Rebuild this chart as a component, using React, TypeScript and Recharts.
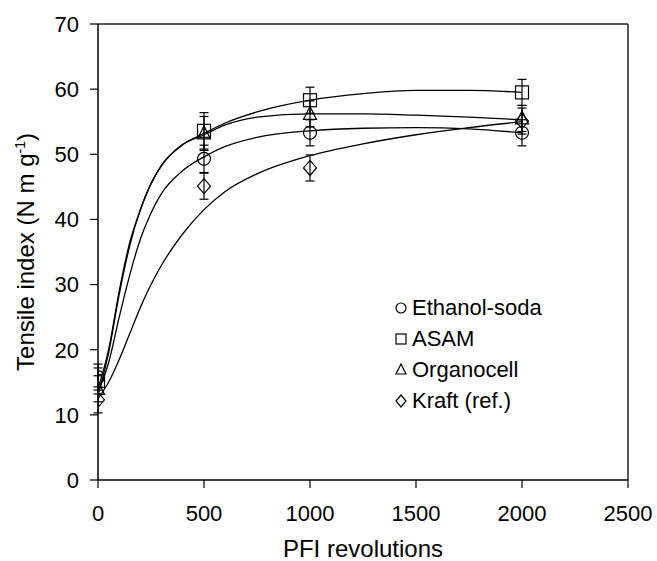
import React from "react";
import {
  ComposedChart,
  Line,
  Scatter,
  ErrorBar,
  XAxis,
  YAxis,
  ReferenceLine,
  Label,
} from "recharts";

// measured points
const revolutions = [0, 500, 1000, 2000];
const ethanolSoda = [15.8, 49.3, 53.3, 53.3];
const ethanolSodaErr = [2, 2.1, 2, 2];
const asam = [15.2, 53.6, 58.3, 59.5];
const asamErr = [2, 2.8, 2, 2];
const organocell = [14, 53.2, 56.2, 55.5];
const organocellErr = [2, 2.6, 2, 2];
const kraft = [12.3, 45.1, 47.9, 55.1];
const kraftErr = [2, 2, 2, 2];

// fitted curves
const fitX = [0, 50, 100, 150, 200, 250, 300, 400, 500, 600, 750, 1000, 1250, 1500, 1750, 2000];
const ethanolSodaFit = [13.5, 18, 25, 31.5, 37, 41, 44, 47.5, 49.6, 51.2, 52.6, 53.6, 54, 54.1, 53.9, 53.3];
const asamFit = [14, 20, 29, 36.5, 41.5, 45.5, 48.3, 51.5, 53.2, 54.8, 56.5, 58.3, 59.3, 59.8, 59.8, 59.5];
const organocellFit = [13, 19.5, 28.5, 36, 41.5, 45.5, 48.3, 51.5, 53, 54.5, 55.7, 56.2, 56.2, 56, 55.7, 55.3];
const kraftFit = [12.5, 15, 18.5, 22.5, 26.5, 30, 33, 37.8, 41.5, 44.3, 47, 49.8, 51.6, 53, 54.1, 55];

const xTicks = [0, 500, 1000, 1500, 2000, 2500];
const yTicks = [0, 10, 20, 30, 40, 50, 60, 70];

const FONT = "'Liberation Sans', Arial, sans-serif";

const points = (ys: number[], errs: number[]) =>
  revolutions.map((x, i) => ({ x, y: ys[i], err: errs[i] }));
const curve = (ys: number[]) => fitX.map((x, i) => ({ x, y: ys[i] }));

type Kind = "circle" | "square" | "triangle" | "diamond";

function Marker({ kind, cx, cy, s }: { kind: Kind; cx: number; cy: number; s: number }) {
  const h = s / 2;
  const common = { fill: "none", stroke: "#000", strokeWidth: 1.2 };
  if (kind === "circle") return <circle cx={cx} cy={cy} r={h} {...common} />;
  if (kind === "square") return <rect x={cx - h} y={cy - h} width={s} height={s} {...common} />;
  if (kind === "triangle")
    return <polygon points={`${cx},${cy - h - 1} ${cx - h},${cy + h - 1} ${cx + h},${cy + h - 1}`} {...common} />;
  return <polygon points={`${cx},${cy - h - 1} ${cx + h},${cy} ${cx},${cy + h + 1} ${cx - h},${cy}`} {...common} />;
}

const series: { name: string; kind: Kind; pts: number[]; err: number[]; fit: number[] }[] = [
  { name: "Ethanol-soda", kind: "circle", pts: ethanolSoda, err: ethanolSodaErr, fit: ethanolSodaFit },
  { name: "ASAM", kind: "square", pts: asam, err: asamErr, fit: asamFit },
  { name: "Organocell", kind: "triangle", pts: organocell, err: organocellErr, fit: organocellFit },
  { name: "Kraft (ref.)", kind: "diamond", pts: kraft, err: kraftErr, fit: kraftFit },
];

function LegendBox() {
  return (
    <div
      style={{
        position: "absolute",
        left: 394,
        top: 292,
        fontFamily: FONT,
        fontSize: 22,
        color: "#000",
        lineHeight: "31px",
      }}
    >
      {series.map((s) => (
        <div key={s.name} style={{ display: "flex", alignItems: "center", height: 31 }}>
          <svg width={14} height={14} style={{ marginRight: 4 }}>
            <Marker kind={s.kind} cx={7} cy={7} s={10} />
          </svg>
          <span>{s.name}</span>
        </div>
      ))}
    </div>
  );
}

export default function App() {
  return (
    <div style={{ position: "absolute", left: 0, top: 0, width: 657, height: 561, background: "#fff" }}>
      <ComposedChart
        width={657}
        height={561}
        margin={{ top: 24, right: 29, bottom: 0, left: 38 }}
        style={{ fontFamily: FONT }}
      >
        <XAxis
          dataKey="x"
          type="number"
          domain={[0, 2500]}
          ticks={xTicks}
          interval={0}
          allowDataOverflow
          height={81}
          tickSize={8}
          tickMargin={17}
          axisLine={{ stroke: "#000", strokeWidth: 1.5 }}
          tickLine={{ stroke: "#000", strokeWidth: 1.2 }}
          tick={{ fill: "#000", fontSize: 22, fontFamily: FONT }}
        >
          <Label
            content={() => (
              <text x={363} y={557} textAnchor="middle" fontSize={24} fontFamily={FONT} fill="#000">
                PFI revolutions
              </text>
            )}
          />
        </XAxis>
        <YAxis
          type="number"
          domain={[0, 70]}
          ticks={yTicks}
          interval={0}
          width={60}
          tickSize={8}
          tickMargin={11}
          axisLine={{ stroke: "#000", strokeWidth: 1.5 }}
          tickLine={{ stroke: "#000", strokeWidth: 1.2 }}
          tick={{ fill: "#000", fontSize: 22, fontFamily: FONT }}
        >
          <Label
            content={() => (
              <text
                transform="translate(34,252) rotate(-90)"
                textAnchor="middle"
                fontSize={24}
                fontFamily={FONT}
                fill="#000"
              >
                Tensile index (N m g
                <tspan dy={-9} fontSize={14}>-1</tspan>
                <tspan dy={9}>)</tspan>
              </text>
            )}
          />
        </YAxis>
        <ReferenceLine y={70} stroke="#222" strokeWidth={1.5} />
        <ReferenceLine x={2500} stroke="#222" strokeWidth={1.5} />
        {series.map((s) => (
          <Line
            key={s.name + "-fit"}
            data={curve(s.fit)}
            dataKey="y"
            type="monotone"
            stroke="#000"
            strokeWidth={1.3}
            dot={false}
            activeDot={false}
            legendType="none"
            isAnimationActive={false}
          />
        ))}
        {series.map((s) => (
          <Scatter
            key={s.name}
            name={s.name}
            data={points(s.pts, s.err)}
            dataKey="y"
            isAnimationActive={false}
            shape={(p: any) => <Marker kind={s.kind} cx={p.cx} cy={p.cy} s={13} />}
          >
            <ErrorBar dataKey="err" direction="y" width={4.5} stroke="#000" strokeWidth={1.2} />
          </Scatter>
        ))}
      </ComposedChart>
      <LegendBox />
    </div>
  );
}
